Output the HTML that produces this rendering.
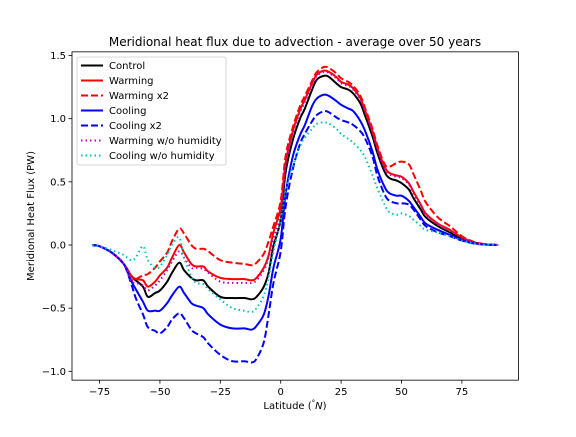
<!DOCTYPE html>
<html><head><meta charset="utf-8">
<style>
html,body{margin:0;padding:0;background:#fff;}
svg text{font-family:"DejaVu Sans","Liberation Sans",sans-serif;}
</style></head>
<body>
<svg id="chart" width="576" height="432" viewBox="0 0 576 432" xmlns="http://www.w3.org/2000/svg">
<rect width="576" height="432" fill="#fff"/>
<text x="295" y="46" text-anchor="middle" font-size="12">Meridional heat flux due to advection - average over 50 years</text>
<g id="plot"></g>
<g id="axes"></g>
<text x="295" y="409" text-anchor="middle" font-size="10">Latitude (<tspan font-size="7" dy="-4">°</tspan><tspan dy="4" font-style="italic">N</tspan>)</text>
<text transform="translate(34,216) rotate(-90)" text-anchor="middle" font-size="10">Meridional Heat Flux (PW)</text>
<g id="legend"></g>
</svg>
<script>
const lats = [-78,-75,-70,-65,-62,-60,-57,-55,-52,-50,-47,-45,-42,-40,-37,-35,-32,-30,-25,-20,-15,-12,-10,-7,-5,-3,0,2,5,8,10,13,15,18,20,23,25,28,30,33,35,38,40,43,45,48,50,53,55,58,60,65,70,75,80,85,90];
const control = [0,-0.01,-0.06,-0.15,-0.24,-0.28,-0.33,-0.41,-0.38,-0.36,-0.29,-0.22,-0.14,-0.2,-0.26,-0.28,-0.28,-0.33,-0.41,-0.42,-0.42,-0.43,-0.41,-0.33,-0.22,-0.01,0.2,0.57,0.83,1.0,1.08,1.23,1.31,1.34,1.33,1.28,1.25,1.23,1.2,1.12,1.02,0.86,0.73,0.58,0.53,0.51,0.49,0.44,0.37,0.28,0.22,0.15,0.1,0.05,0.02,0.005,0];
const warming = [0,-0.01,-0.06,-0.15,-0.24,-0.27,-0.28,-0.33,-0.29,-0.24,-0.18,-0.1,0.0,-0.06,-0.15,-0.17,-0.17,-0.21,-0.26,-0.27,-0.27,-0.28,-0.26,-0.18,-0.08,0.1,0.3,0.65,0.9,1.07,1.15,1.28,1.35,1.38,1.37,1.33,1.29,1.27,1.24,1.16,1.06,0.9,0.77,0.62,0.57,0.55,0.54,0.49,0.42,0.32,0.25,0.17,0.12,0.06,0.02,0.005,0];
const warming2 = [0,-0.01,-0.06,-0.15,-0.27,-0.27,-0.24,-0.23,-0.18,-0.13,-0.06,0.03,0.13,0.09,0.0,-0.03,-0.03,-0.05,-0.12,-0.14,-0.15,-0.16,-0.14,-0.07,0.03,0.15,0.35,0.7,0.93,1.1,1.18,1.3,1.37,1.41,1.4,1.36,1.32,1.29,1.26,1.18,1.08,0.92,0.79,0.64,0.62,0.65,0.66,0.64,0.56,0.43,0.34,0.22,0.15,0.07,0.025,0.005,0];
const cooling = [0,-0.01,-0.06,-0.15,-0.28,-0.35,-0.45,-0.52,-0.52,-0.52,-0.46,-0.4,-0.33,-0.38,-0.46,-0.48,-0.5,-0.55,-0.63,-0.66,-0.66,-0.67,-0.64,-0.55,-0.4,-0.18,0.05,0.4,0.7,0.87,0.95,1.1,1.16,1.19,1.18,1.14,1.11,1.08,1.06,0.98,0.9,0.74,0.6,0.46,0.41,0.39,0.39,0.35,0.3,0.22,0.17,0.12,0.08,0.04,0.015,0.003,0];
const cooling2 = [0,-0.01,-0.06,-0.15,-0.3,-0.42,-0.55,-0.65,-0.68,-0.7,-0.65,-0.59,-0.54,-0.58,-0.67,-0.7,-0.73,-0.78,-0.87,-0.92,-0.92,-0.93,-0.9,-0.77,-0.55,-0.3,-0.05,0.3,0.6,0.8,0.88,0.98,1.03,1.06,1.05,1.01,0.99,0.97,0.95,0.9,0.84,0.7,0.55,0.4,0.35,0.33,0.33,0.32,0.28,0.2,0.15,0.1,0.07,0.035,0.012,0.003,0];
const warmNoHum = [0,-0.01,-0.06,-0.15,-0.28,-0.3,-0.32,-0.36,-0.32,-0.28,-0.2,-0.13,-0.05,-0.1,-0.18,-0.18,-0.19,-0.22,-0.29,-0.3,-0.3,-0.3,-0.28,-0.2,-0.1,0.05,0.25,0.62,0.88,1.05,1.13,1.27,1.34,1.37,1.36,1.32,1.28,1.26,1.23,1.15,1.05,0.89,0.76,0.6,0.56,0.54,0.53,0.48,0.4,0.31,0.24,0.16,0.11,0.06,0.02,0.005,0];
const coolNoHum = [0,-0.01,-0.04,-0.08,-0.12,-0.1,-0.01,-0.12,-0.18,-0.17,-0.08,0.0,0.06,-0.1,-0.25,-0.3,-0.31,-0.35,-0.43,-0.5,-0.52,-0.53,-0.5,-0.4,-0.25,-0.05,0.2,0.42,0.62,0.78,0.85,0.92,0.96,0.97,0.96,0.92,0.88,0.84,0.81,0.75,0.69,0.55,0.45,0.32,0.26,0.24,0.25,0.23,0.2,0.15,0.12,0.1,0.07,0.035,0.012,0.003,0];
const seriesNames = ["Control","Warming","Warming x2","Cooling","Cooling x2","Warming w/o humidity","Cooling w/o humidity"];
const xTicks = [-75,-50,-25,0,25,50,75];
const yTicks = [-1.0,-0.5,0.0,0.5,1.0,1.5];

const NS="http://www.w3.org/2000/svg";
const L=72,R=518.4,T=51.84,B=380.16;
const xMin=-86.4,xMax=98.4,yMin=-1.07,yMax=1.529;
function xs(v){return L+(v-xMin)/(xMax-xMin)*(R-L);}
function ys(v){return B-(v-yMin)/(yMax-yMin)*(B-T);}
function mk(tag,attrs,parent){const e=document.createElementNS(NS,tag);for(const k in attrs)e.setAttribute(k,attrs[k]);parent.appendChild(e);return e;}
const styles=[
 {c:"#000000",d:""},{c:"#ff0000",d:""},{c:"#ff0000",d:"7,3"},
 {c:"#0000ff",d:""},{c:"#0000ff",d:"7,3"},{c:"#bf00bf",d:"1.5,3"},{c:"#00bfbf",d:"1.5,3"}];
const allSeries=[control,warming,warming2,cooling,cooling2,warmNoHum,coolNoHum];
const slugs=["control","warming","warming-x2","cooling","cooling-x2","warming-no-humidity","cooling-no-humidity"];
function smoothPath(vals){
  const p=lats.map((la,i)=>[xs(la),ys(vals[i])]);
  let d="M"+p[0][0].toFixed(2)+","+p[0][1].toFixed(2);
  for(let i=0;i<p.length-1;i++){
    const p0=p[Math.max(0,i-1)],p1=p[i],p2=p[i+1],p3=p[Math.min(p.length-1,i+2)];
    const c1=[p1[0]+(p2[0]-p0[0])/6,p1[1]+(p2[1]-p0[1])/6];
    const c2=[p2[0]-(p3[0]-p1[0])/6,p2[1]-(p3[1]-p1[1])/6];
    d+=" C"+c1[0].toFixed(2)+","+c1[1].toFixed(2)+" "+c2[0].toFixed(2)+","+c2[1].toFixed(2)+" "+p2[0].toFixed(2)+","+p2[1].toFixed(2);
  }
  return d;
}
const plot=document.getElementById("plot");
allSeries.forEach((s,i)=>{
  const el=mk("path",{d:smoothPath(s),fill:"none",stroke:styles[i].c,"stroke-width":"2","stroke-dasharray":styles[i].d,"stroke-linejoin":"round"},plot);
  
  
});
const axes=document.getElementById("axes");
const frame=mk("rect",{x:L,y:T,width:R-L,height:B-T,fill:"none",stroke:"#000","stroke-width":"0.8"},axes);


xTicks.forEach(t=>{
  const x=xs(t);
  const tk=mk("line",{x1:x,x2:x,y1:B,y2:B+3.5,stroke:"#000","stroke-width":"0.8"},axes);
  
  
  const tx=mk("text",{x:x,y:B+15,"text-anchor":"middle","font-size":"10"},axes);
  tx.textContent=(t<0?"\u2212"+Math.abs(t):t);
  
  
});
yTicks.forEach(t=>{
  const y=ys(t);
  const tk=mk("line",{x1:L-3.5,x2:L,y1:y,y2:y,stroke:"#000","stroke-width":"0.8"},axes);
  
  
  const tx=mk("text",{x:L-6,y:y+3.5,"text-anchor":"end","font-size":"10"},axes);
  tx.textContent=(t<0?"\u2212":"")+Math.abs(t).toFixed(1);
  
  
});
const lg=document.getElementById("legend");
const box=mk("rect",{x:77,y:57,width:149,height:108,rx:2,fill:"#fff","fill-opacity":"0.8",stroke:"#ccc","stroke-width":"0.8"},lg);


seriesNames.forEach((n,i)=>{
  const y=65.5+i*15;
  const ln=mk("line",{x1:81,x2:103,y1:y,y2:y,stroke:styles[i].c,"stroke-width":"2","stroke-dasharray":styles[i].d},lg);
  
  
  const tx=mk("text",{x:109,y:y+3.5,"font-size":"10"},lg);
  tx.textContent=n;
  
  
});
</script>
</body></html>
